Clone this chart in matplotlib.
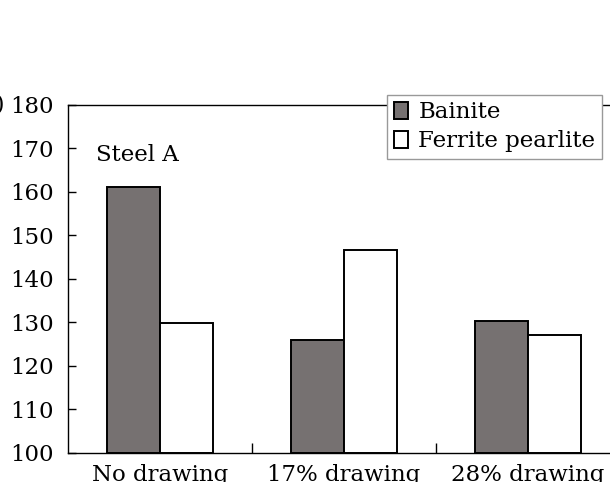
import numpy as np
import matplotlib
matplotlib.use("Agg")
import matplotlib.pyplot as plt

categories = ["No drawing", "17% drawing", "28% drawing"]
bainite = [161.1, 126.0, 130.3]
ferrite_pearlite = [129.9, 146.7, 127.1]

plt.rcParams["font.family"] = ["DejaVu Serif"]
plt.rcParams["font.size"] = 16.5

fig = plt.figure(figsize=(6.1, 4.82), dpi=100)
ax = fig.add_axes([68/610, 29/482, 560/610, 348/482])

x = np.arange(len(categories))
w = 0.29
ax.bar(x - w/2, np.array(bainite) - 100, w, bottom=100, color="#767171",
       edgecolor="black", linewidth=1.4, label="Bainite")
ax.bar(x + w/2, np.array(ferrite_pearlite) - 100, w, bottom=100, color="white",
       edgecolor="black", linewidth=1.4, label="Ferrite pearlite")

ax.set_xlim(-0.5, 2.5 + 8/183.5)
ax.set_ylim(100, 180)
ax.set_yticks(range(100, 181, 10))
ax.tick_params(axis="y", direction="in", length=6, width=1, pad=10)

# separators between groups as major ticks, group names as minor labels
ax.set_xticks([0.5, 1.5])
ax.set_xticklabels([])
ax.tick_params(axis="x", which="major", direction="in", length=7, width=1)
ax.set_xticks(x, minor=True)
ax.set_xticklabels(categories, minor=True)
ax.tick_params(axis="x", which="minor", length=0, pad=8)

for s in ax.spines.values():
    s.set_linewidth(1)

ax.text(-0.35, 168.5, "Steel A", va="center", ha="left")
fig.text(5/610, 1 - 105/482, "(%)", ha="right", va="center")

leg = ax.legend(loc="upper right", bbox_to_anchor=(0.954, 1.03), borderaxespad=0,
                fancybox=False, framealpha=1, edgecolor="#999999",
                handlelength=0.6, handleheight=0.75, handletextpad=0.45,
                borderpad=0.3, labelspacing=0.3)
leg.get_frame().set_linewidth(1)

fig.savefig("out.png", dpi=100)
